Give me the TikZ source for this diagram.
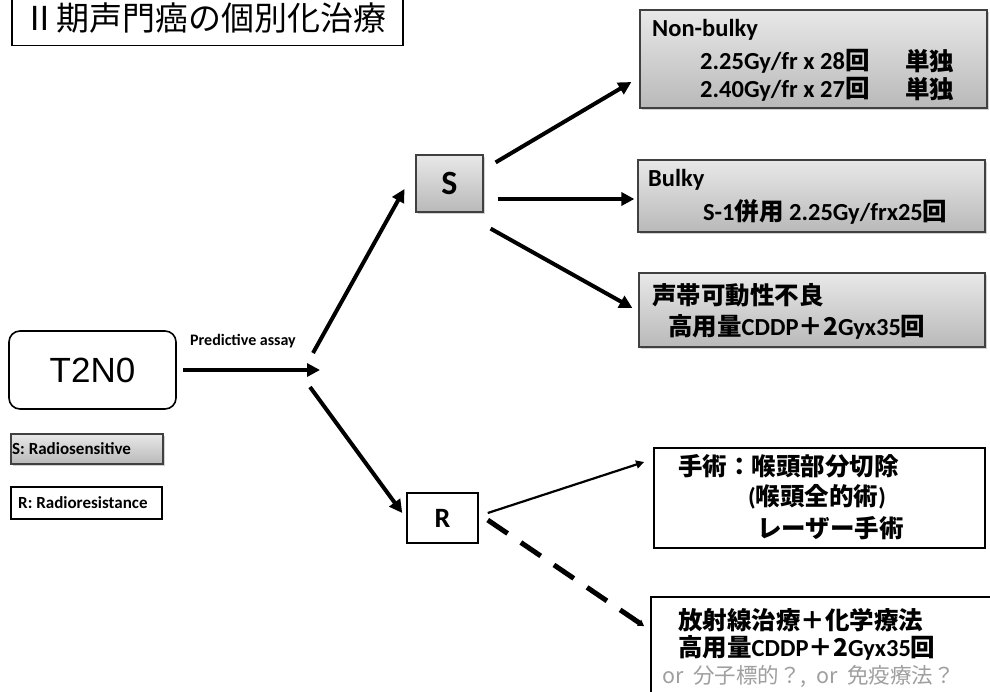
\documentclass[tikz,border=0pt]{standalone}
\usepackage{fontspec}
\setmainfont{Carlito}
\newfontfamily\jp{Noto Sans CJK JP}
\newfontfamily\arialf{Liberation Sans}
\newcommand\J[1]{{\jp #1}}
\usetikzlibrary{arrows.meta,shadows,calc}
\begin{document}
\begin{tikzpicture}[x=1pt,y=-1pt,
  graybox/.style={rectangle, draw=black!75, line width=1.2pt, top color=gray!18, bottom color=gray!55,
     drop shadow={shadow xshift=2pt, shadow yshift=-2pt, opacity=0.35}},
  whitebox/.style={rectangle, draw=black, line width=1.8pt, fill=white},
  arr/.style={line width=4pt, -{Triangle[length=13pt,width=13pt]}},
  btxt/.style={anchor=west, inner sep=0pt, font=\bfseries\fontsize{24.5}{24.5}\selectfont},
  small/.style={anchor=west, inner sep=0pt, font=\bfseries\fontsize{17}{17}\selectfont},
]
\clip (0,0) rectangle (990,691);
\fill[white] (0,0) rectangle (990,691);

% title
\node[rectangle, draw=black, line width=1.8pt, minimum width=391pt, minimum height=52pt] (title) at (207.5,19.5) {};
\node[inner sep=0pt, font=\jp\fontsize{33}{33}\selectfont] (titletxt) at (205,18) {Ⅱ期声門癌の個別化治療};

% T2N0
\node[rectangle, rounded corners=11pt, draw=black, line width=1.6pt, minimum width=167pt, minimum height=78pt,
      font=\arialf\fontsize{35}{35}\selectfont] (t) at (92.5,370) {T2N0};

% legend
\node[graybox, minimum width=152pt, minimum height=30pt] (legS) at (87,449) {};
\node[small] (legStxt) at (12,449) {S: Radiosensitive};
\node[whitebox, minimum width=151pt, minimum height=32pt] (legR) at (86.5,503) {};
\node[small] (legRtxt) at (18,503) {R: Radioresistance};

% predictive assay
\node[inner sep=0pt, font=\bfseries\fontsize{16}{16}\selectfont] (pa) at (243,341) {Predictive assay};
\coordinate (fork) at (320,370);

% S and R
\node[graybox, minimum width=67pt, minimum height=57pt, font=\bfseries\fontsize{34}{34}\selectfont] (S) at (449.5,183.5) {S};
\node[whitebox, line width=1.5pt, minimum width=71pt, minimum height=50pt, font=\bfseries\fontsize{28}{28}\selectfont] (R) at (442.5,518) {R};

% right boxes
\node[graybox, minimum width=347pt, minimum height=98pt] (nb) at (813.5,59) {};
\node[btxt] (nb1) at (652,30) {Non-bulky};
\node[btxt] (nb2) at (700,61) {2.25Gy/fr x 28\J{回}};
\node[btxt] (nb3) at (700,89) {2.40Gy/fr x 27\J{回}};
\node[btxt] (nb4) at (905,61) {\J{単独}};
\node[btxt] (nb5) at (905,89) {\J{単独}};

\node[graybox, minimum width=347pt, minimum height=72pt] (bk) at (811.5,196) {};
\node[btxt] (bk1) at (648,180) {Bulky};
\node[btxt] (bk2) at (703,212) {S-1\J{併用} 2.25Gy/frx25\J{回}};

\node[graybox, minimum width=346pt, minimum height=74pt] (sd) at (812,310) {};
\node[btxt] (sd1) at (652,295) {\J{声帯可動性不良}};
\node[btxt] (sd2) at (668,327) {\J{高用量}CDDP\J{＋2}Gyx35\J{回}};

\node[whitebox, minimum width=331pt, minimum height=100pt] (sj) at (819.5,498) {};
\node[btxt] (sj1) at (678,466) {\J{手術：喉頭部分切除}};
\node[btxt] (sj2) at (748,497) {(\J{喉頭全的術})};
\node[btxt] (sj3) at (757,528) {\J{レーザー手術}};

\node[whitebox, minimum width=349pt, minimum height=113pt] (hs) at (825.5,653.5) {};
\node[btxt] (hs1) at (678,620) {\J{放射線治療＋化学療法}};
\node[btxt] (hs2) at (678,648) {\J{高用量}CDDP\J{＋2}Gyx35\J{回}};
\node[anchor=west, inner sep=0pt, text=gray!75, font=\jp\fontsize{21.5}{21.5}\selectfont] (hs3) at (662,676) {or\ \ 分子標的？,\ \ or\ \ 免疫療法？};

% connectors
\draw[arr] ($(t.east)+(6,0)$) -- (fork);
\draw[arr] ($(fork)+(-7,-17)$) -- ($(S.west)+(-11,5.5)$);
\draw[arr] ($(fork)+(-10,17)$) -- ($(R.west)+(-4,-5)$);
\draw[arr] ($(S.north east)+(12,8)$) -- ($(nb.west)+(-8,23)$);
\draw[arr] ($(S.east)+(14,15.5)$) -- ($(bk.west)+(-3,3)$);
\draw[arr] ($(S.south east)+(7,16)$) -- ($(sd.west)+(-6,-2)$);
\draw[line width=2.2pt, -{Triangle[length=8pt,width=8pt]}] ($(R.east)+(9,-5)$) -- ($(sj.west)+(-9,-36)$);
\draw[line width=5pt, dash pattern=on 24pt off 16pt, -{Triangle[length=6pt,width=7pt]}] ($(R.east)+(9,2)$) -- ($(hs.north west)+(-6,30)$);
\end{tikzpicture}
\end{document}
